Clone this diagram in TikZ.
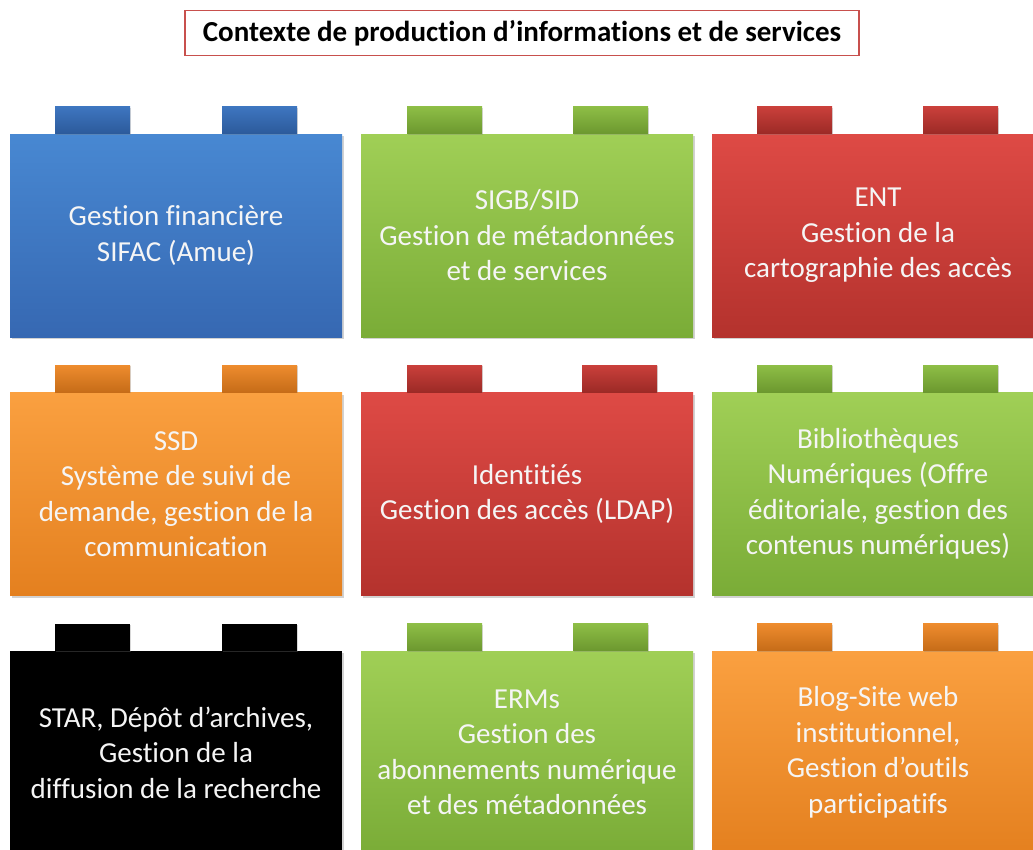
\documentclass[tikz,border=0pt]{standalone}
\usepackage{fontspec}
\setmainfont{Carlito}[Ligatures=NoCommon]
\usepackage{xcolor}
\usetikzlibrary{shadows}

\definecolor{titlered}{RGB}{200,80,77}
\definecolor{bluetop}{RGB}{72,136,210}
\definecolor{bluebot}{RGB}{54,104,178}
\definecolor{bluetabtop}{RGB}{62,118,192}
\definecolor{bluetabbot}{RGB}{44,90,155}
\definecolor{greentop}{RGB}{160,207,86}
\definecolor{greenbot}{RGB}{122,172,55}
\definecolor{greentabtop}{RGB}{142,190,70}
\definecolor{greentabbot}{RGB}{108,152,47}
\definecolor{redtop}{RGB}{222,74,69}
\definecolor{redbot}{RGB}{180,50,45}
\definecolor{redtabtop}{RGB}{202,64,59}
\definecolor{redtabbot}{RGB}{156,42,38}
\definecolor{orangetop}{RGB}{250,160,64}
\definecolor{orangebot}{RGB}{228,128,31}
\definecolor{orangetabtop}{RGB}{238,140,46}
\definecolor{orangetabbot}{RGB}{198,108,24}
\definecolor{boxtext}{RGB}{245,245,245}

\tikzset{
  brick/.style={minimum width=332pt, minimum height=203pt, inner sep=0pt,
    align=center, text=boxtext, font=\fontsize{29}{35.5}\selectfont,
    drop shadow={shadow xshift=1.5pt, shadow yshift=-2pt, opacity=0.35}},
  tab/.style={minimum width=75pt, minimum height=27pt, inner sep=0pt,
    anchor=south west,
    drop shadow={shadow xshift=1pt, shadow yshift=-1pt, opacity=0.3}},
  blue/.style={top color=bluetop, bottom color=bluebot},
  bluetab/.style={tab, top color=bluetabtop, bottom color=bluetabbot},
  green/.style={top color=greentop, bottom color=greenbot},
  greentab/.style={tab, top color=greentabtop, bottom color=greentabbot},
  red/.style={top color=redtop, bottom color=redbot},
  redtab/.style={tab, top color=redtabtop, bottom color=redtabbot},
  orange/.style={top color=orangetop, bottom color=orangebot},
  orangetab/.style={tab, top color=orangetabtop, bottom color=orangetabbot},
  noir/.style={fill=black},
  noirtab/.style={tab, fill=black},
}

\begin{document}
\begin{tikzpicture}[x=1pt,y=-1pt]
\clip (0,0) rectangle (1033,849);
\fill[white] (0,0) rectangle (1033,849);

% Title
\node[draw=titlered, line width=1.5pt, minimum width=674pt, minimum height=45pt, inner sep=0pt,
  font=\bfseries\fontsize{29}{32}\selectfont] (titre) at (522,33) {Contexte de production d’informations et de services};

% Row 1
\node[brick, blue] (fin) at (176,235.5) {Gestion financière\\SIFAC (Amue)};
\node[bluetab] (fin-a) at ([xshift=45pt]fin.north west) {};
\node[bluetab] (fin-b) at ([xshift=212pt]fin.north west) {};
\node[brick, green] (sigb) at (527,235.5) {SIGB/SID\\Gestion de métadonnées\\et de services};
\node[greentab] (sigb-a) at ([xshift=46pt]sigb.north west) {};
\node[greentab] (sigb-b) at ([xshift=212pt]sigb.north west) {};
\node[brick, red] (ent) at (878,235.5) {ENT\\Gestion de la\\cartographie des accès};
\node[redtab] (ent-a) at ([xshift=45pt]ent.north west) {};
\node[redtab] (ent-b) at ([xshift=211pt]ent.north west) {};

% Row 2
\node[brick, orange] (ssd) at (176,494) {SSD\\Système de suivi de\\demande, gestion de la\\communication};
\node[orangetab] (ssd-a) at ([xshift=45pt]ssd.north west) {};
\node[orangetab] (ssd-b) at ([xshift=212pt]ssd.north west) {};
\node[brick, red] (ident) at (527,494) {Identitiés\\Gestion des accès (LDAP)};
\node[redtab] (ident-a) at ([xshift=46pt]ident.north west) {};
\node[redtab] (ident-b) at ([xshift=221pt]ident.north west) {};
\node[brick, green] (bib) at (878,494) {Bibliothèques\\Numériques (Offre\\éditoriale, gestion des\\contenus numériques)};
\node[greentab] (bib-a) at ([xshift=45pt]bib.north west) {};
\node[greentab] (bib-b) at ([xshift=211pt]bib.north west) {};

% Row 3
\node[brick, noir] (star) at (176,752.5) {STAR, Dépôt d’archives,\\Gestion de la\\diffusion de la recherche};
\node[noirtab] (star-a) at ([xshift=45pt]star.north west) {};
\node[noirtab] (star-b) at ([xshift=212pt]star.north west) {};
\node[brick, green] (erm) at (527,752.5) {ERMs\\Gestion des\\abonnements numérique\\et des métadonnées};
\node[greentab] (erm-a) at ([xshift=46pt]erm.north west) {};
\node[greentab] (erm-b) at ([xshift=212pt]erm.north west) {};
\node[brick, orange] (blog) at (878,752.5) {Blog-Site web\\institutionnel,\\Gestion d’outils\\participatifs};
\node[orangetab] (blog-a) at ([xshift=45pt]blog.north west) {};
\node[orangetab] (blog-b) at ([xshift=211pt]blog.north west) {};

\end{tikzpicture}
\end{document}
